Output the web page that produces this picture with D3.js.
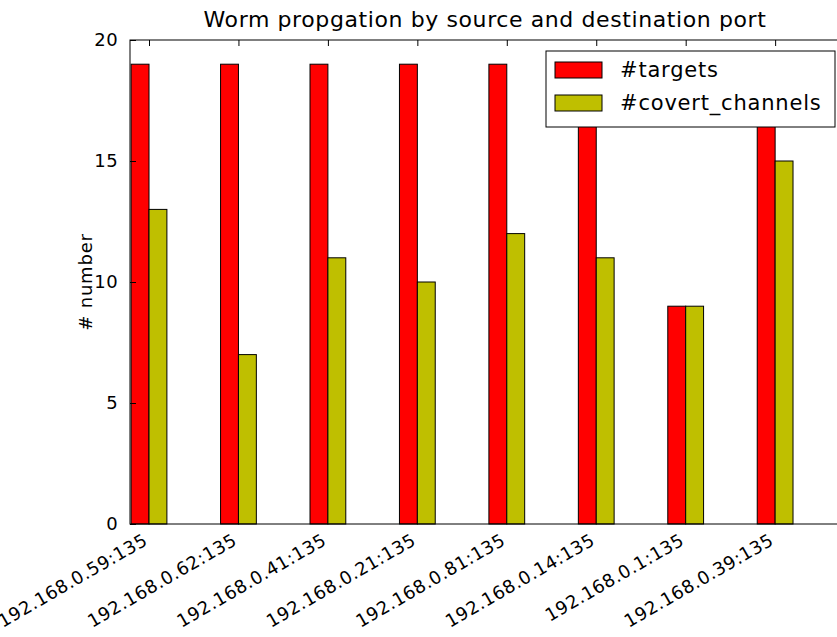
<!DOCTYPE html>
<html>
<head>
<meta charset="utf-8">
<script src="https://cdn.jsdelivr.net/npm/d3@7"></script>
<style>
  body { margin: 0; background: #fff; }
  svg text { font-family: "DejaVu Sans", sans-serif; fill: #000; }
</style>
</head>
<body>
<script>
// chart data
var hosts = ["192.168.0.59:135", "192.168.0.62:135", "192.168.0.41:135", "192.168.0.21:135",
             "192.168.0.81:135", "192.168.0.14:135", "192.168.0.1:135", "192.168.0.39:135"];
var targets = [19, 19, 19, 19, 19, 19, 9, 19];
var covertChannels = [13, 7, 11, 10, 12, 11, 9, 15];
var seriesNames = ["#targets", "#covert_channels"];
var seriesColors = ["#ff0000", "#bfbf00"];
var yTicks = [0, 5, 10, 15, 20];

var width = 837, height = 637;
var plot = {left: 130, right: 844, top: 40, bottom: 524};

var svg = d3.select("body").append("svg")
    .attr("width", width)
    .attr("height", height);

// x is a linear scale over group index, y over counts
var x = d3.scaleLinear().domain([-0.2125, 7.77]).range([plot.left, plot.right]);
var y = d3.scaleLinear().domain([0, 20]).range([plot.bottom, plot.top]);
var barW = x(0.2) - x(0);

var series = [targets, covertChannels];

// bars
series.forEach(function(vals, s){
    svg.append("g").selectAll("rect")
        .data(vals)
        .enter()
        .append("rect")
        .attr("x", function(d, i){ return s == 0 ? x(i) - barW : x(i); })
        .attr("y", function(d){ return y(d); })
        .attr("width", barW)
        .attr("height", function(d){ return y(0) - y(d); })
        .attr("fill", seriesColors[s])
        .attr("stroke", "#000")
        .attr("stroke-width", 1);
});

// frame
svg.append("rect")
    .attr("x", plot.left).attr("y", plot.top)
    .attr("width", plot.right - plot.left).attr("height", plot.bottom - plot.top)
    .attr("fill", "none").attr("stroke", "#000").attr("stroke-width", 1);

// y axis, ticks pointing inward
var yAxis = svg.append("g")
    .attr("transform", "translate(" + plot.left + ",0)")
    .call(d3.axisLeft(y).tickValues(yTicks).tickSize(-6).tickPadding(12));
yAxis.select(".domain").remove();
yAxis.selectAll("text").style("font-size", "18px").style("letter-spacing", "0.4px");

// top ticks at each group
svg.append("g")
    .attr("transform", "translate(0," + plot.top + ")")
    .call(d3.axisTop(x).tickValues(d3.range(hosts.length)).tickSize(-6).tickFormat(""))
    .select(".domain").remove();

// bottom labels, rotated (first one runs off the left edge like the original)
svg.append("g").selectAll("text")
    .data(hosts)
    .enter()
    .append("text")
    .attr("transform", function(d, i){ return "translate(" + (x(i) - 7) + "," + (plot.bottom + 8) + ") rotate(-30)"; })
    .attr("text-anchor", "end")
    .attr("dy", "0.75em")
    .style("font-size", "18px")
    .style("letter-spacing", "0.5px")
    .text(function(d){ return d; });

// y axis label
svg.append("text")
    .attr("transform", "translate(92," + ((plot.top + plot.bottom) / 2) + ") rotate(-90)")
    .attr("text-anchor", "middle")
    .style("font-size", "18px")
    .style("letter-spacing", "0.8px")
    .text("# number");

// title
svg.append("text")
    .attr("x", (plot.left + plot.right) / 2 - 2)
    .attr("y", 27)
    .attr("text-anchor", "middle")
    .style("font-size", "22px")
    .style("letter-spacing", "0.6px")
    .text("Worm propgation by source and destination port");

// legend
var legend = svg.append("g");
legend.append("rect")
    .attr("x", 546).attr("y", 51).attr("width", 289).attr("height", 76)
    .attr("fill", "#fff").attr("stroke", "#000").attr("stroke-width", 1);
seriesNames.forEach(function(name, s){
    legend.append("rect")
        .attr("x", 555).attr("y", 62 + s * 33).attr("width", 47).attr("height", 16)
        .attr("fill", seriesColors[s]).attr("stroke", "#000").attr("stroke-width", 1);
    legend.append("text")
        .attr("x", 620).attr("y", 70 + s * 33)
        .attr("dy", "0.35em")
        .style("font-size", "21px")
        .style("letter-spacing", "0.8px")
        .text(name);
});
</script>
</body>
</html>
